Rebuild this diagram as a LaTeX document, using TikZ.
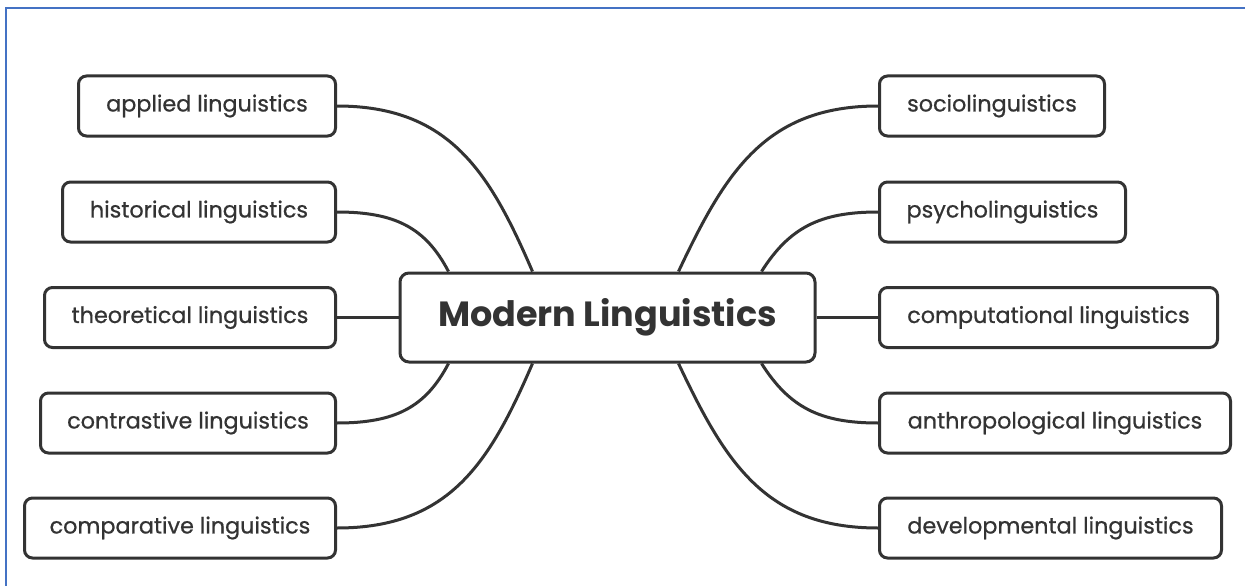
\documentclass[tikz,border=0pt]{standalone}
\usepackage{fontspec}
\setmainfont{Poppins}
\newfontfamily\leaffont{Poppins}[FakeBold=0.7]
\usetikzlibrary{calc}
\definecolor{ink}{HTML}{333333}
\definecolor{frameblue}{HTML}{4472C4}
\begin{document}
\begin{tikzpicture}[x=1pt,y=-1pt,
  leaf/.style={draw=ink, line width=3pt, rounded corners=8pt, fill=white,
    minimum height=60pt, inner sep=0pt, text=ink,
    font=\leaffont\fontsize{22.3}{26}\selectfont},
  hub/.style={draw=ink, line width=3pt, rounded corners=9pt, fill=white,
    minimum width=415pt, minimum height=89pt, inner sep=0pt, text=ink,
    font=\bfseries\fontsize{35}{42}\selectfont},
  link/.style={draw=ink, line width=3pt}]
\useasboundingbox (0,0) rectangle (1245,586);
\fill[white] (0,0) rectangle (1245,586);
\draw[frameblue, line width=2pt] (1245,8) -- (6,8) -- (6,586);

% central topic
\node[hub] (hub) at (607.5,317.5) {Modern Linguistics};

% left branches
\node[leaf, minimum width=257pt, anchor=east] (applied)     at (337,106) {applied linguistics};
\node[leaf, minimum width=273pt, anchor=east] (historical)  at (337,212) {historical linguistics};
\node[leaf, minimum width=291pt, anchor=east] (theoretical) at (337,317.5) {theoretical linguistics};
\node[leaf, minimum width=295pt, anchor=east] (contrastive) at (337,423) {contrastive linguistics};
\node[leaf, minimum width=311pt, anchor=east] (comparative) at (337,528) {comparative linguistics};

% right branches
\node[leaf, minimum width=225pt, anchor=west] (socio)    at (878,106) {sociolinguistics};
\node[leaf, minimum width=246pt, anchor=west] (psycho)   at (878,212) {psycholinguistics};
\node[leaf, minimum width=338pt, anchor=west] (comput)   at (878,317.5) {computational linguistics};
\node[leaf, minimum width=351pt, anchor=west] (anthro)   at (878,423) {anthropological linguistics};
\node[leaf, minimum width=342pt, anchor=west] (develop)  at (878,528) {developmental linguistics};

% attachment points on the central box
\coordinate (nA) at ($(hub.north west)+(50,0)$);
\coordinate (nB) at ($(hub.north west)+(134,0)$);
\coordinate (nC) at ($(hub.north west)+(280,0)$);
\coordinate (nD) at ($(hub.north west)+(363,0)$);
\coordinate (sA) at ($(hub.south west)+(50,0)$);
\coordinate (sB) at ($(hub.south west)+(134,0)$);
\coordinate (sC) at ($(hub.south west)+(280,0)$);
\coordinate (sD) at ($(hub.south west)+(363,0)$);

% connectors, left
\draw[link] (applied.east) .. controls (450,106) and (490,173) .. (nB);
\draw[link] (historical.east) .. controls (395,212) and (425.5,227.5) .. (nA);
\draw[link] (theoretical.east) -- (hub.west);
\draw[link] (contrastive.east) .. controls (395,423) and (425.5,407.5) .. (sA);
\draw[link] (comparative.east) .. controls (450,528) and (490,462) .. (sB);

% connectors, right
\draw[link] (nC) .. controls (725,173) and (765,106) .. (socio.west);
\draw[link] (nD) .. controls (789.5,227.5) and (820,212) .. (psycho.west);
\draw[link] (hub.east) -- (comput.west);
\draw[link] (sD) .. controls (789.5,407.5) and (820,423) .. (anthro.west);
\draw[link] (sC) .. controls (725,462) and (765,528) .. (develop.west);
\end{tikzpicture}
\end{document}
